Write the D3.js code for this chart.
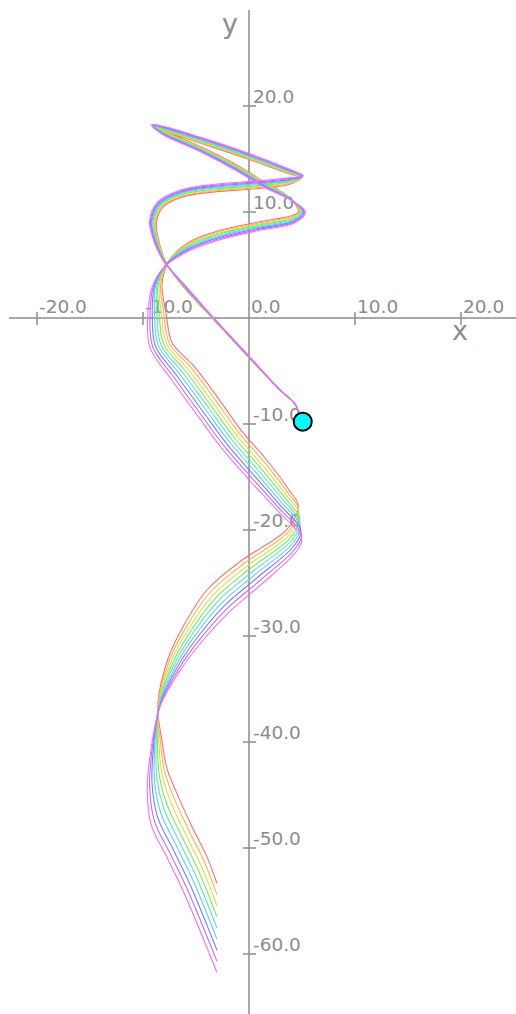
<!DOCTYPE html>
<html>
<head>
<meta charset="utf-8">
<script src="https://cdn.jsdelivr.net/npm/d3@7"></script>
<style>
  html, body { margin: 0; padding: 0; background: #fff; overflow: hidden; }
</style>
</head>
<body>
<div id="chart"></div>
<script>
// nine trajectories (data units)
const run1X = [4.91, 4.34, 2.92, 0.05, -3.44, -6.12, -7.80, -8.53, -8.74, -8.16, -6.43, -3.21, 0.57, 3.79, 4.88, 3.40, -0.38, -4.62, -7.84, -8.72, -8.21, -4.62, -1.32, 1.43, 3.86, 4.68, 4.17, 1.04, -2.74, -5.45, -7.32, -8.20, -7.80, -7.26, -5.11, -2.91, -0.68, 1.69, 3.77, 4.65, 3.62, -0.76, -3.96, -6.27, -7.68, -8.61, -8.21, -7.76, -6.82, -5.35, -3.96, -3.02];
const run1Y = [-9.53, -8.11, -6.79, -3.81, -0.04, 2.84, 5.20, 7.36, 8.98, 10.42, 11.38, 11.90, 12.19, 12.60, 13.18, 13.72, 15.10, 16.51, 17.59, 17.99, 17.75, 16.18, 14.53, 12.83, 11.33, 10.00, 9.70, 9.08, 8.27, 7.27, 5.72, 3.35, 0.35, -2.31, -4.63, -7.56, -10.67, -13.42, -16.21, -17.73, -19.90, -22.92, -25.66, -29.20, -32.26, -36.60, -39.85, -42.41, -44.80, -48.05, -50.84, -53.35];

const run2X = [4.91, 4.34, 2.92, 0.06, -3.43, -6.10, -7.83, -8.59, -8.82, -8.22, -6.45, -3.21, 0.57, 3.81, 4.91, 3.40, -0.38, -4.62, -7.86, -8.78, -8.21, -4.62, -1.32, 1.45, 3.91, 4.76, 4.19, 1.04, -2.74, -5.48, -7.40, -8.32, -8.02, -7.52, -5.39, -3.15, -0.91, 1.48, 3.63, 4.69, 3.73, -0.50, -3.70, -6.07, -7.53, -8.58, -8.35, -7.99, -7.12, -5.64, -4.22, -3.02];
const run2Y = [-9.53, -8.11, -6.79, -3.80, -0.03, 2.86, 5.22, 7.36, 9.00, 10.48, 11.46, 11.99, 12.28, 12.68, 13.21, 13.78, 15.17, 16.58, 17.65, 18.02, 17.70, 16.12, 14.46, 12.76, 11.28, 10.00, 9.61, 8.98, 8.16, 7.15, 5.61, 3.29, 0.31, -2.37, -4.77, -7.77, -10.88, -13.65, -16.45, -18.11, -20.16, -23.18, -25.92, -29.40, -32.38, -36.60, -40.03, -42.68, -45.18, -48.42, -51.29, -54.40];

const run3X = [4.91, 4.34, 2.92, 0.07, -3.42, -6.08, -7.86, -8.65, -8.90, -8.28, -6.47, -3.21, 0.57, 3.83, 4.94, 3.40, -0.38, -4.62, -7.88, -8.84, -8.21, -4.62, -1.32, 1.47, 3.96, 4.84, 4.21, 1.04, -2.74, -5.51, -7.48, -8.44, -8.24, -7.78, -5.67, -3.39, -1.14, 1.27, 3.49, 4.73, 3.84, -0.24, -3.44, -5.87, -7.38, -8.55, -8.49, -8.22, -7.42, -5.93, -4.48, -3.02];
const run3Y = [-9.53, -8.11, -6.79, -3.79, -0.02, 2.88, 5.24, 7.36, 9.02, 10.54, 11.54, 12.08, 12.37, 12.76, 13.24, 13.84, 15.24, 16.65, 17.71, 18.05, 17.65, 16.06, 14.39, 12.69, 11.23, 10.00, 9.52, 8.88, 8.05, 7.03, 5.50, 3.23, 0.27, -2.43, -4.91, -7.98, -11.09, -13.88, -16.69, -18.49, -20.42, -23.44, -26.18, -29.60, -32.50, -36.60, -40.21, -42.95, -45.56, -48.79, -51.74, -55.45];

const run4X = [4.91, 4.34, 2.92, 0.08, -3.41, -6.06, -7.89, -8.71, -8.98, -8.34, -6.49, -3.21, 0.57, 3.85, 4.97, 3.40, -0.38, -4.62, -7.90, -8.90, -8.21, -4.62, -1.32, 1.49, 4.01, 4.92, 4.23, 1.04, -2.74, -5.54, -7.56, -8.56, -8.46, -8.04, -5.95, -3.63, -1.37, 1.06, 3.35, 4.77, 3.95, 0.02, -3.18, -5.67, -7.23, -8.52, -8.63, -8.45, -7.72, -6.22, -4.74, -3.02];
const run4Y = [-9.53, -8.11, -6.79, -3.78, -0.01, 2.90, 5.26, 7.36, 9.04, 10.60, 11.62, 12.17, 12.46, 12.84, 13.27, 13.90, 15.31, 16.72, 17.77, 18.08, 17.60, 16.00, 14.32, 12.62, 11.18, 10.00, 9.43, 8.78, 7.94, 6.91, 5.39, 3.17, 0.23, -2.49, -5.05, -8.19, -11.30, -14.11, -16.93, -18.87, -20.68, -23.70, -26.44, -29.80, -32.62, -36.60, -40.39, -43.22, -45.94, -49.16, -52.19, -56.50];

const run5X = [4.91, 4.34, 2.92, 0.09, -3.40, -6.04, -7.92, -8.77, -9.06, -8.40, -6.51, -3.21, 0.57, 3.87, 5.00, 3.40, -0.38, -4.62, -7.92, -8.96, -8.21, -4.62, -1.32, 1.51, 4.06, 5.00, 4.25, 1.04, -2.74, -5.57, -7.64, -8.68, -8.68, -8.30, -6.23, -3.87, -1.60, 0.85, 3.21, 4.81, 4.06, 0.28, -2.92, -5.47, -7.08, -8.49, -8.77, -8.68, -8.02, -6.51, -5.00, -3.02];
const run5Y = [-9.53, -8.11, -6.79, -3.77, 0.00, 2.92, 5.28, 7.36, 9.06, 10.66, 11.70, 12.26, 12.55, 12.92, 13.30, 13.96, 15.38, 16.79, 17.83, 18.11, 17.55, 15.94, 14.25, 12.55, 11.13, 10.00, 9.34, 8.68, 7.83, 6.79, 5.28, 3.11, 0.19, -2.55, -5.19, -8.40, -11.51, -14.34, -17.17, -19.25, -20.94, -23.96, -26.70, -30.00, -32.74, -36.60, -40.57, -43.49, -46.32, -49.53, -52.64, -57.55];

const run6X = [4.91, 4.34, 2.92, 0.10, -3.39, -6.02, -7.95, -8.83, -9.14, -8.46, -6.53, -3.21, 0.57, 3.89, 5.03, 3.40, -0.38, -4.62, -7.94, -9.02, -8.21, -4.62, -1.32, 1.53, 4.11, 5.08, 4.27, 1.04, -2.74, -5.60, -7.72, -8.80, -8.90, -8.56, -6.51, -4.11, -1.83, 0.64, 3.07, 4.85, 4.17, 0.54, -2.66, -5.27, -6.93, -8.46, -8.91, -8.91, -8.32, -6.80, -5.26, -3.02];
const run6Y = [-9.53, -8.11, -6.79, -3.76, 0.01, 2.94, 5.30, 7.36, 9.08, 10.72, 11.78, 12.35, 12.64, 13.00, 13.33, 14.02, 15.45, 16.86, 17.89, 18.14, 17.50, 15.88, 14.18, 12.48, 11.08, 10.00, 9.25, 8.58, 7.72, 6.67, 5.17, 3.05, 0.15, -2.61, -5.33, -8.61, -11.72, -14.57, -17.41, -19.63, -21.20, -24.22, -26.96, -30.20, -32.86, -36.60, -40.75, -43.76, -46.70, -49.90, -53.09, -58.60];

const run7X = [4.91, 4.34, 2.92, 0.11, -3.38, -6.00, -7.98, -8.89, -9.22, -8.52, -6.55, -3.21, 0.57, 3.91, 5.06, 3.40, -0.38, -4.62, -7.96, -9.08, -8.21, -4.62, -1.32, 1.55, 4.16, 5.16, 4.29, 1.04, -2.74, -5.63, -7.80, -8.92, -9.12, -8.82, -6.79, -4.35, -2.06, 0.43, 2.93, 4.89, 4.28, 0.80, -2.40, -5.07, -6.78, -8.43, -9.05, -9.14, -8.62, -7.09, -5.52, -3.02];
const run7Y = [-9.53, -8.11, -6.79, -3.75, 0.02, 2.96, 5.32, 7.36, 9.10, 10.78, 11.86, 12.44, 12.73, 13.08, 13.36, 14.08, 15.52, 16.93, 17.95, 18.17, 17.45, 15.82, 14.11, 12.41, 11.03, 10.00, 9.16, 8.48, 7.61, 6.55, 5.06, 2.99, 0.11, -2.67, -5.47, -8.82, -11.93, -14.80, -17.65, -20.01, -21.46, -24.48, -27.22, -30.40, -32.98, -36.60, -40.93, -44.03, -47.08, -50.27, -53.54, -59.65];

const run8X = [4.91, 4.34, 2.92, 0.12, -3.37, -5.98, -8.01, -8.95, -9.30, -8.58, -6.57, -3.21, 0.57, 3.93, 5.09, 3.40, -0.38, -4.62, -7.98, -9.14, -8.21, -4.62, -1.32, 1.57, 4.21, 5.24, 4.31, 1.04, -2.74, -5.66, -7.88, -9.04, -9.34, -9.08, -7.07, -4.59, -2.29, 0.22, 2.79, 4.93, 4.39, 1.06, -2.14, -4.87, -6.63, -8.40, -9.19, -9.37, -8.92, -7.38, -5.78, -3.02];
const run8Y = [-9.53, -8.11, -6.79, -3.74, 0.03, 2.98, 5.34, 7.36, 9.12, 10.84, 11.94, 12.53, 12.82, 13.16, 13.39, 14.14, 15.59, 17.00, 18.01, 18.20, 17.40, 15.76, 14.04, 12.34, 10.98, 10.00, 9.07, 8.38, 7.50, 6.43, 4.95, 2.93, 0.07, -2.73, -5.61, -9.03, -12.14, -15.03, -17.89, -20.39, -21.72, -24.74, -27.48, -30.60, -33.10, -36.60, -41.11, -44.30, -47.46, -50.64, -53.99, -60.70];

const run9X = [4.91, 4.34, 2.92, 0.13, -3.36, -5.96, -8.04, -9.01, -9.38, -8.64, -6.59, -3.21, 0.57, 3.95, 5.12, 3.40, -0.38, -4.62, -8.00, -9.20, -8.21, -4.62, -1.32, 1.59, 4.26, 5.32, 4.33, 1.04, -2.74, -5.69, -7.96, -9.16, -9.56, -9.34, -7.35, -4.83, -2.52, 0.01, 2.65, 4.97, 4.50, 1.32, -1.88, -4.67, -6.48, -8.37, -9.33, -9.60, -9.22, -7.67, -6.04, -3.02];
const run9Y = [-9.53, -8.11, -6.79, -3.73, 0.04, 3.00, 5.36, 7.36, 9.14, 10.90, 12.02, 12.62, 12.91, 13.24, 13.42, 14.20, 15.66, 17.07, 18.07, 18.23, 17.35, 15.70, 13.97, 12.27, 10.93, 10.00, 8.98, 8.28, 7.39, 6.31, 4.84, 2.87, 0.03, -2.79, -5.75, -9.24, -12.35, -15.26, -18.13, -20.77, -21.98, -25.00, -27.74, -30.80, -33.22, -36.60, -41.29, -44.57, -47.84, -51.01, -54.44, -61.75];

const runColors = ['#ff6e6e', '#ffae5a', '#d8e050', '#7ee66a', '#5ee6b4', '#62cdf4', '#7a7cff', '#b472ff', '#ff6cf0'];

const startPoint = [5.07, -9.78];

const xTicks = [-20, -10, 0, 10, 20];
const yTicks = [20, 10, -10, -20, -30, -40, -50, -60];

const width = 516, height = 1014;
const axisColor = '#8c8c8c';

const svg = d3.select('#chart').append('svg')
    .attr('width', width)
    .attr('height', height)
    .style('display', 'block');

// 10.6 px per unit, origin at (249, 318)
const x = d3.scaleLinear().domain([0, 10]).range([249, 355]);
const y = d3.scaleLinear().domain([0, 10]).range([318, 212]);

// axes
const axes = svg.append('g')
    .attr('stroke', axisColor)
    .attr('stroke-width', 1.5);

axes.append('line')
    .attr('x1', 9).attr('x2', width)
    .attr('y1', y(0)).attr('y2', y(0));
axes.append('line')
    .attr('x1', x(0)).attr('x2', x(0))
    .attr('y1', 10).attr('y2', height);

axes.selectAll('.xtick')
    .data(xTicks.filter(d => d !== 0))
    .enter().append('line')
    .attr('class', 'xtick')
    .attr('x1', d => x(d)).attr('x2', d => x(d))
    .attr('y1', y(0) - 6).attr('y2', y(0) + 7);

axes.selectAll('.ytick')
    .data(yTicks)
    .enter().append('line')
    .attr('class', 'ytick')
    .attr('x1', x(0) - 6).attr('x2', x(0) + 7)
    .attr('y1', d => y(d)).attr('y2', d => y(d));

const labels = svg.append('g')
    .attr('fill', axisColor)
    .style('font-family', 'DejaVu Sans')
    .style('font-size', '18.5px');

labels.selectAll('.xlab')
    .data(xTicks)
    .enter().append('text')
    .attr('class', 'xlab')
    .attr('x', d => x(d) + 2)
    .attr('y', y(0) - 5)
    .text(d => d.toFixed(1));

labels.selectAll('.ylab')
    .data(yTicks)
    .enter().append('text')
    .attr('class', 'ylab')
    .attr('x', x(0) + 4)
    .attr('y', d => y(d) - 3)
    .text(d => d.toFixed(1));

svg.append('text')
    .attr('x', 452).attr('y', 340)
    .attr('fill', axisColor)
    .style('font-family', 'DejaVu Sans')
    .style('font-size', '27px')
    .text('x');

svg.append('text')
    .attr('x', 222).attr('y', 33)
    .attr('fill', axisColor)
    .style('font-family', 'DejaVu Sans')
    .style('font-size', '27px')
    .text('y');

// trajectories
const runs = [
    [run1X, run1Y], [run2X, run2Y], [run3X, run3Y],
    [run4X, run4Y], [run5X, run5Y], [run6X, run6Y],
    [run7X, run7Y], [run8X, run8Y], [run9X, run9Y]
];

const line = d3.line()
    .x(d => x(d[0]))
    .y(d => y(d[1]))
    .curve(d3.curveCatmullRom.alpha(0.5));

svg.append('g').selectAll('path')
    .data(runs)
    .enter().append('path')
    .attr('d', r => line(r[0].map((v, i) => [v, r[1][i]])))
    .attr('fill', 'none')
    .attr('stroke', (r, i) => runColors[i])
    .attr('stroke-width', 1.1);

// start marker
svg.append('circle')
    .attr('cx', x(startPoint[0]))
    .attr('cy', y(startPoint[1]))
    .attr('r', 9)
    .attr('fill', '#00ffff')
    .attr('stroke', '#000')
    .attr('stroke-width', 2);
</script>
</body>
</html>
